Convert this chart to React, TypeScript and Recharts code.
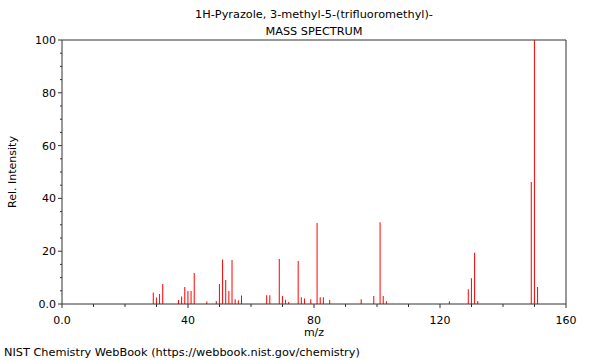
import { BarChart, Bar, XAxis, YAxis, ReferenceLine, Label } from 'recharts'

const mz = [
  29, 30, 31, 32, 37, 38, 39, 40, 41, 42, 46, 49, 50, 51, 52, 53, 54, 55, 56, 57,
  65, 66, 69, 70, 71, 72, 75, 76, 77, 79, 81, 82, 83, 85, 95, 99, 101, 102, 103,
  123, 129, 130, 131, 132, 149, 150, 151,
]
const intensity = [
  4.4, 2.5, 3.8, 7.6, 1.5, 2.8, 6.4, 4.9, 4.9, 11.7, 0.9, 1.1, 7.6, 16.9, 9.1, 4.9, 16.7, 1.8, 1.4, 3.2,
  3.3, 3.3, 17.0, 3.0, 1.6, 0.8, 16.3, 2.6, 2.1, 1.8, 30.7, 2.6, 2.6, 1.5, 1.8, 3.0, 31.0, 3.0, 1.0,
  1.0, 5.6, 9.8, 19.4, 1.1, 46.2, 100, 6.4,
]
const xTicks = [0, 10, 20, 30, 40, 50, 60, 70, 80, 90, 100, 110, 120, 130, 140, 150, 160]
const yTicks = [0, 5, 10, 15, 20, 25, 30, 35, 40, 45, 50, 55, 60, 65, 70, 75, 80, 85, 90, 95, 100]

const data = mz.map((m, i) => ({ mz: m, rel: intensity[i] }))

const font = '"DejaVu Sans", sans-serif'
const axisColor = '#333'

function XTick({ x, y, payload }: any) {
  const v = payload.value
  const major = v % 40 === 0
  return (
    <g>
      <line x1={x} x2={x} y1={y} y2={y + (major ? 4 : 3)} stroke={axisColor} />
      {major && (
        <text x={x} y={y + 20} textAnchor="middle" fontSize={11} fontFamily={font} fill="#000">
          {v === 0 ? '0.0' : v}
        </text>
      )}
    </g>
  )
}

function YTick({ x, y, payload }: any) {
  const v = payload.value
  const major = v % 20 === 0
  return (
    <g>
      <line x1={x} x2={x - (major ? 4 : 2)} y1={y} y2={y} stroke={axisColor} />
      {major && (
        <text x={x - 6} y={y + 4} textAnchor="end" fontSize={11} fontFamily={font} fill="#000">
          {v === 0 ? '0.0' : v}
        </text>
      )}
    </g>
  )
}

export default function App() {
  return (
    <div style={{ position: 'absolute', left: 0, top: 0, width: 600, height: 360, fontFamily: font }}>
      <div style={{ position: 'absolute', left: 0, width: 628, top: 6, textAlign: 'center', fontSize: 11.3, lineHeight: '17px' }}>
        1H-Pyrazole, 3-methyl-5-(trifluoromethyl)-
        <br />
        MASS SPECTRUM
      </div>
      <BarChart
        width={600}
        height={360}
        data={data}
        margin={{ top: 40, right: 34, bottom: 26, left: 0 }}
      >
        <XAxis
          dataKey="mz"
          type="number"
          domain={[0, 160]}
          ticks={xTicks}
          interval={0}
          height={30}
          tickSize={0}
          tickMargin={0}
          tick={<XTick />}
          stroke={axisColor}
        >
          <Label value="m/z" position="bottom" offset={0} dy={-6} fontSize={11} fontFamily={font} fill="#000" />
        </XAxis>
        <YAxis
          type="number"
          domain={[0, 100]}
          ticks={yTicks}
          interval={0}
          width={62}
          tickSize={0}
          tickMargin={0}
          tick={<YTick />}
          stroke={axisColor}
        >
          <Label value="Rel. Intensity" angle={-90} position="insideLeft" offset={5} dx={7} style={{ textAnchor: 'middle' }} fontSize={11} fontFamily={font} fill="#000" />
        </YAxis>
        <ReferenceLine y={100} stroke={axisColor} />
        <ReferenceLine x={160} stroke={axisColor} />
        <Bar dataKey="rel" fill="#ff0000" barSize={1} isAnimationActive={false} />
      </BarChart>
      <div style={{ position: 'absolute', left: 4, top: 346, fontSize: 11.3 }}>
        NIST Chemistry WebBook (https://webbook.nist.gov/chemistry)
      </div>
    </div>
  )
}
